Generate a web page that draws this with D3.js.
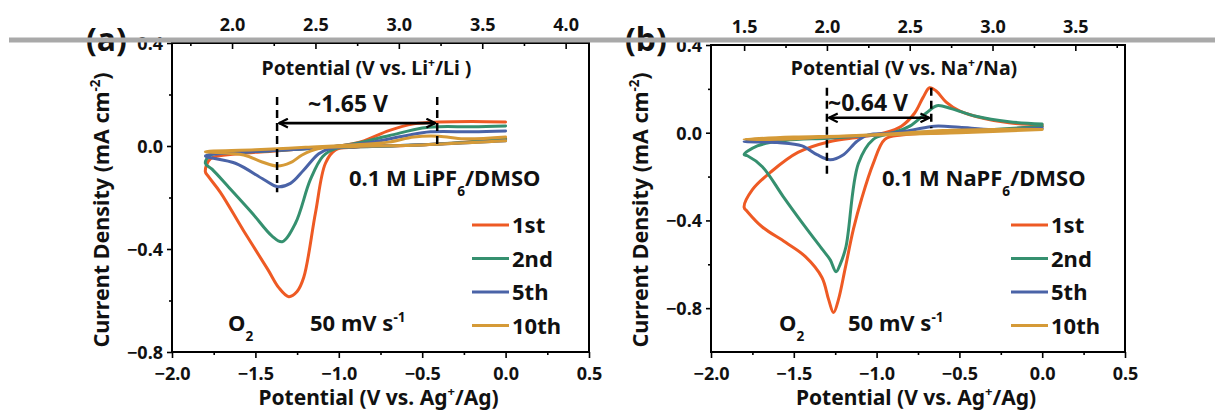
<!DOCTYPE html>
<html lang="en">
<head>
<meta charset="utf-8">
<title>CV curves</title>
<script src="https://d3js.org/d3.v7.min.js"></script>
<style>
    body { margin: 0; background: #fff; }
    svg text { font-family: "Noto Sans", "Open Sans", sans-serif; font-weight: bold; fill: #111; }
    .frame { fill: none; stroke: #000; stroke-width: 2; }
    .curve { fill: none; stroke-width: 3; stroke-linejoin: round; stroke-linecap: round; }
    .dash { stroke: #000; stroke-width: 2.5; stroke-dasharray: 8,5; }
</style>
</head>
<body>
<svg width="1215" height="410"></svg>
<script>
    // cycle names used in the legends
    const cycleNames = ["1st", "2nd", "5th", "10th"];

    // Li cell, [V vs Ag+/Ag, mA cm-2], sweep order: 0 -> -1.8 -> 0
    const li1st = [[0.0,0.03],[-0.3,0.012],[-0.6,0.002],[-0.9,-0.005],[-1.02,-0.015],[-1.08,-0.067],[-1.14,-0.26],[-1.21,-0.51],[-1.25,-0.565],[-1.30,-0.585],[-1.36,-0.55],[-1.425,-0.48],[-1.57,-0.33],[-1.71,-0.18],[-1.78,-0.12],[-1.8,-0.10],
        [-1.77,-0.05],[-1.6,-0.03],[-1.4,-0.02],[-1.2,-0.01],[-1.0,0.0],[-0.85,0.02],[-0.7,0.06],[-0.55,0.086],[-0.4,0.093],[-0.2,0.095],[0.0,0.093]];
    const li2nd = [[0.0,0.025],[-0.4,0.008],[-0.8,-0.002],[-0.95,-0.005],[-1.02,-0.01],[-1.095,-0.04],[-1.17,-0.13],[-1.26,-0.30],[-1.34,-0.372],[-1.40,-0.35],[-1.52,-0.26],[-1.66,-0.16],[-1.76,-0.09],[-1.8,-0.067],
        [-1.77,-0.035],[-1.6,-0.025],[-1.3,-0.015],[-1.0,0.0],[-0.9,0.01],[-0.7,0.04],[-0.5,0.07],[-0.4,0.075],[-0.2,0.075],[0.0,0.078]];
    const li5th = [[0.0,0.02],[-0.5,0.005],[-0.9,-0.003],[-1.05,-0.01],[-1.12,-0.03],[-1.21,-0.093],[-1.29,-0.145],[-1.367,-0.158],[-1.45,-0.13],[-1.62,-0.067],[-1.8,-0.039],
        [-1.6,-0.025],[-1.3,-0.015],[-1.0,0.0],[-0.8,0.015],[-0.6,0.04],[-0.45,0.055],[-0.2,0.055],[0.0,0.058]];
    const li10th = [[0.0,0.02],[-0.5,0.004],[-0.9,-0.002],[-1.12,-0.01],[-1.22,-0.035],[-1.29,-0.065],[-1.367,-0.078],[-1.46,-0.062],[-1.57,-0.035],[-1.8,-0.022],
        [-1.5,-0.015],[-1.2,-0.005],[-0.9,0.005],[-0.7,0.015],[-0.55,0.035],[-0.4,0.038],[-0.25,0.028],[0.0,0.035]];

    // Na cell
    const na1st = [[0.0,0.03],[-0.3,0.01],[-0.6,0.0],[-0.85,-0.01],[-0.95,-0.03],[-1.02,-0.14],[-1.09,-0.3],[-1.14,-0.44],[-1.19,-0.62],[-1.23,-0.76],[-1.26,-0.82],[-1.29,-0.76],[-1.33,-0.66],[-1.43,-0.565],[-1.55,-0.50],[-1.69,-0.43],[-1.78,-0.36],[-1.8,-0.34],
        [-1.75,-0.26],[-1.64,-0.18],[-1.475,-0.09],[-1.28,-0.04],[-1.1,-0.02],[-0.95,0.0],[-0.85,0.03],[-0.77,0.09],[-0.72,0.16],[-0.68,0.205],[-0.64,0.19],[-0.58,0.14],[-0.5,0.1],[-0.35,0.065],[-0.2,0.045],[0.0,0.035]];
    const na2nd = [[0.0,0.03],[-0.4,0.01],[-0.8,0.0],[-0.95,-0.01],[-1.02,-0.03],[-1.11,-0.14],[-1.185,-0.52],[-1.22,-0.6],[-1.245,-0.634],[-1.28,-0.58],[-1.33,-0.53],[-1.45,-0.41],[-1.565,-0.29],[-1.69,-0.155],[-1.78,-0.105],[-1.8,-0.10],
        [-1.72,-0.06],[-1.55,-0.035],[-1.3,-0.025],[-1.1,-0.015],[-0.9,0.0],[-0.8,0.03],[-0.7,0.09],[-0.635,0.123],[-0.55,0.11],[-0.4,0.075],[-0.2,0.05],[0.0,0.04]];
    const na5th = [[0.0,0.02],[-0.5,0.005],[-0.9,-0.005],[-1.05,-0.01],[-1.12,-0.04],[-1.2,-0.1],[-1.28,-0.123],[-1.36,-0.1],[-1.45,-0.06],[-1.6,-0.045],[-1.8,-0.04],
        [-1.6,-0.03],[-1.3,-0.02],[-1.0,-0.01],[-0.8,0.01],[-0.65,0.03],[-0.5,0.025],[-0.3,0.015],[0.0,0.02]];
    const na10th = [[0.0,0.015],[-0.5,0.0],[-1.0,-0.01],[-1.3,-0.02],[-1.6,-0.03],[-1.8,-0.03],
        [-1.5,-0.02],[-1.2,-0.015],[-0.9,-0.005],[-0.6,0.01],[-0.3,0.015],[0.0,0.015]];

    // tick values
    const bottomTicks = [-2.0, -1.5, -1.0, -0.5, 0.0, 0.5];
    const bottomMinor = [-1.75, -1.25, -0.75, -0.25, 0.25];
    const leftTicks = [0.4, 0.0, -0.4, -0.8];
    const leftMinor = [0.2, -0.2, -0.6];
    const liTopTicks = [2.0, 2.5, 3.0, 3.5, 4.0];
    const liTopMinor = [1.75, 2.25, 2.75, 3.25, 3.75];
    const naTopTicks = [1.5, 2.0, 2.5, 3.0, 3.5];
    const naTopMinor = [1.75, 2.25, 2.75, 3.25, 3.75];

    // peak positions marked by dashed lines (V vs Ag+/Ag)
    const liGap = [-1.37, -0.41];
    const naGap = [-1.30, -0.67];

    const colors = ["#ee5a24", "#35906f", "#4a63a7", "#d59a37"];

    const panels = [
        {tag: "(a)", left: 172, right: 589, top: 43, bottom: 352, yDomain: [-0.8, 0.4], offset: 3.64,
         cycles: [li1st, li2nd, li5th, li10th], topTicks: liTopTicks, topMinor: liTopMinor,
         gap: liGap, gapText: "~1.65 V", gapY: 0.089, gapTop: 0.19, gapBottom: [-0.18, -0.005], gapLabel: [348, 111],
         ion: "Li", salt: "LiPF", saltX: 349, legX: 472, o2X: 228, rateX: 310},
        {tag: "(b)", left: 711, right: 1125, top: 45, bottom: 352, yDomain: [-1.0, 0.4], offset: 3.30,
         cycles: [na1st, na2nd, na5th, na10th], topTicks: naTopTicks, topMinor: naTopMinor,
         gap: naGap, gapText: "~0.64 V", gapY: 0.068, gapTop: 0.205, gapBottom: [-0.205, 0.02], gapLabel: [868, 110],
         ion: "Na", salt: "NaPF", saltX: 882, legX: 1011, o2X: 779, rateX: 848}
    ];

    const svg = d3.select("svg");
    const fmt = d3.format(".1f");

    svg.append("defs").append("marker")
        .attr("id", "head")
        .attr("viewBox", "0 0 10 10")
        .attr("refX", 9).attr("refY", 5)
        .attr("markerWidth", 11).attr("markerHeight", 11)
        .attr("markerUnits", "userSpaceOnUse")
        .attr("orient", "auto-start-reverse")
      .append("path")
        .attr("d", "M1,1 L9,5 L1,9")
        .attr("fill", "none").attr("stroke", "#000").attr("stroke-width", 2);

    // text with sub/superscripts: parts are [string, "sup"|"sub"|undefined]
    function richText(g, x, y, size, parts, anchor) {
        const t = g.append("text").attr("x", x).attr("y", y)
            .attr("font-size", size).attr("text-anchor", anchor || "start");
        parts.forEach(p => {
            const s = t.append("tspan").text(p[0]);
            if (p[1] === "sup") s.attr("font-size", size * 0.62).attr("baseline-shift", "super");
            if (p[1] === "sub") s.attr("font-size", size * 0.62).attr("baseline-shift", "sub");
        });
        return t;
    }

    function styleAxis(g, size) {
        g.select(".domain").remove();
        g.selectAll("line").attr("stroke", "#000").attr("stroke-width", 1.6);
        g.selectAll("text").attr("font-size", size).attr("fill", "#111")
            .attr("font-family", "'Noto Sans', 'Open Sans', sans-serif").attr("font-weight", "bold");
    }

    panels.forEach(p => {
        const x = d3.scaleLinear().domain([-2.0, 0.5]).range([p.left, p.right]);
        const xTop = d3.scaleLinear().domain([-2.0 + p.offset, 0.5 + p.offset]).range([p.left, p.right]);
        const y = d3.scaleLinear().domain(p.yDomain).range([p.bottom, p.top]);
        const g = svg.append("g");

        // axes
        g.append("g").attr("transform", `translate(0,${p.bottom})`)
            .call(d3.axisBottom(x).tickValues(bottomTicks).tickFormat(fmt).tickSize(6).tickPadding(9))
            .call(a => styleAxis(a, 18));
        g.append("g").attr("transform", `translate(0,${p.bottom})`)
            .call(d3.axisBottom(x).tickValues(bottomMinor).tickFormat("").tickSize(3))
            .call(a => styleAxis(a, 18));
        g.append("g").attr("transform", `translate(${p.left},0)`)
            .call(d3.axisLeft(y).tickValues(leftTicks).tickFormat(fmt).tickSize(5).tickPadding(4))
            .call(a => styleAxis(a, 18))
            .selectAll("text").attr("dy", "0.36em");
        g.append("g").attr("transform", `translate(${p.left},0)`)
            .call(d3.axisLeft(y).tickValues(leftMinor).tickFormat("").tickSize(3))
            .call(a => styleAxis(a, 18));
        g.append("g").attr("transform", `translate(0,${p.top})`)
            .call(d3.axisTop(xTop).tickValues(p.topTicks).tickFormat(fmt).tickSize(-6).tickPadding(12))
            .call(a => styleAxis(a, 18));
        g.append("g").attr("transform", `translate(0,${p.top})`)
            .call(d3.axisTop(xTop).tickValues(p.topMinor).tickFormat("").tickSize(-3))
            .call(a => styleAxis(a, 18));

        g.append("rect").attr("class", "frame")
            .attr("x", p.left).attr("y", p.top)
            .attr("width", p.right - p.left).attr("height", p.bottom - p.top);

        // curves
        const line = d3.line().x(d => x(d[0])).y(d => y(d[1])).curve(d3.curveCatmullRom.alpha(0.5));
        p.cycles.forEach((c, i) => {
            g.append("path").attr("class", "curve")
                .attr("stroke", colors[i])
                .attr("d", line(c));
        });

        // dashed peak markers and the arrow between them
        p.gap.forEach((v, i) => {
            g.append("line").attr("class", "dash")
                .attr("x1", x(v)).attr("x2", x(v))
                .attr("y1", y(p.gapTop)).attr("y2", y(p.gapBottom[i]));
        });
        g.append("line")
            .attr("x1", x(p.gap[0]) + 2).attr("x2", x(p.gap[1]) - 2)
            .attr("y1", y(p.gapY)).attr("y2", y(p.gapY))
            .attr("stroke", "#000").attr("stroke-width", 2.6)
            .attr("marker-start", "url(#head)").attr("marker-end", "url(#head)");
        g.append("text").attr("x", p.gapLabel[0]).attr("y", p.gapLabel[1] + 1)
            .attr("font-size", 23).attr("text-anchor", "middle").text(p.gapText);

        // axis titles
        richText(g, (p.left + p.right) / 2 - 14, 75, 19.5,
            [["Potential (V vs. " + p.ion], ["+", "sup"], ["/" + p.ion + (p.ion === "Li" ? " )" : ")")]], "middle");
        richText(g, (p.left + p.right) / 2 - 2, 405, 21,
            [["Potential (V vs. Ag"], ["+", "sup"], ["/Ag)"]], "middle");
        richText(g, 0, 0, 21.5, [["Current Density (mA cm"], ["-2", "sup"], [")"]], "middle")
            .attr("transform", `translate(${p.left - 63},210) rotate(-90)`);

        // notes
        richText(g, p.saltX, 186, 22, [["0.1 M " + p.salt], ["6", "sub"], ["/DMSO"]]);
        richText(g, p.o2X, 331, 22, [["O"], ["2", "sub"]]);
        richText(g, p.rateX, 331, 22, [["50 mV s"], ["-1", "sup"]]);

        // legend
        cycleNames.forEach((name, i) => {
            const ly = 225 + i * 33.5;
            g.append("line").attr("x1", p.legX).attr("x2", p.legX + 37)
                .attr("y1", ly).attr("y2", ly)
                .attr("stroke", colors[i]).attr("stroke-width", 3);
            g.append("text").attr("x", p.legX + 40).attr("y", ly + 8)
                .attr("font-size", 22).text(name);
        });

        // panel tag
        g.append("text").attr("x", p.left - 86).attr("y", 51)
            .attr("font-size", 32).text(p.tag);
    });

    // grey band across the top
    svg.append("line")
        .attr("x1", 9).attr("x2", 1215).attr("y1", 40).attr("y2", 40)
        .attr("stroke", "#a9a9a9").attr("stroke-width", 5);
</script>
</body>
</html>
